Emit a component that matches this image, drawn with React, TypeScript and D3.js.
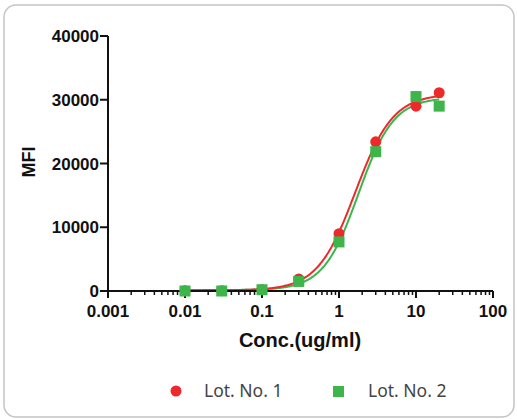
import React from "react";
import * as d3 from "d3";

const concentrations = [0.01, 0.03, 0.1, 0.3, 1, 3, 10, 20];
const lot1Values = [50, 50, 200, 1900, 9000, 23400, 29000, 31100];
const lot2Values = [0, 0, 200, 1500, 7700, 21850, 30500, 29000];
const xTicks = [0.001, 0.01, 0.1, 1, 10, 100];
const xTickLabels = ["0.001", "0.01", "0.1", "1", "10", "100"];
const yTicks = [0, 10000, 20000, 30000, 40000];
const seriesNames = ["Lot. No. 1", "Lot. No. 2"];
const seriesColors = ["#ec2a2c", "#3db54b"];

const W = 517;
const H = 419;
const m = { left: 108, right: 493, top: 36, bottom: 291 };

function fit4PL(xs: number[], ys: number[]) {
  const f = (p: number[], x: number) =>
    p[0] + (p[1] - p[0]) / (1 + Math.pow(10, (p[2] - Math.log10(x)) * p[3]));
  const cost = (p: number[]) =>
    xs.reduce((s, x, i) => s + (f(p, x) - ys[i]) ** 2, 0);
  const n = 4;
  const start = [0, d3.max(ys) as number, 0.3, 1.5];
  const steps = [500, 2000, 0.3, 0.5];
  let simplex = [start.slice()];
  for (let i = 0; i < n; i++) {
    const v = start.slice();
    v[i] += steps[i];
    simplex.push(v);
  }
  let vals = simplex.map(cost);
  for (let it = 0; it < 4000; it++) {
    const idx = d3.range(n + 1).sort((a, b) => vals[a] - vals[b]);
    simplex = idx.map((i) => simplex[i]);
    vals = idx.map((i) => vals[i]);
    const c = d3.range(n).map((j) => d3.mean(simplex.slice(0, n), (v) => v[j]) as number);
    const worst = simplex[n];
    const xr = c.map((cj, j) => cj + (cj - worst[j]));
    const fr = cost(xr);
    if (fr < vals[0]) {
      const xe = c.map((cj, j) => cj + 2 * (cj - worst[j]));
      const fe = cost(xe);
      if (fe < fr) { simplex[n] = xe; vals[n] = fe; } else { simplex[n] = xr; vals[n] = fr; }
    } else if (fr < vals[n - 1]) {
      simplex[n] = xr; vals[n] = fr;
    } else {
      const xc = c.map((cj, j) => cj + 0.5 * (worst[j] - cj));
      const fc = cost(xc);
      if (fc < vals[n]) { simplex[n] = xc; vals[n] = fc; }
      else {
        for (let i = 1; i <= n; i++) {
          simplex[i] = simplex[i].map((v, j) => simplex[0][j] + 0.5 * (v - simplex[0][j]));
          vals[i] = cost(simplex[i]);
        }
      }
    }
  }
  const best = simplex[0];
  return (x: number) => f(best, x);
}

export default function App() {
  const x = d3.scaleLog().domain([0.001, 100]).range([m.left, m.right]);
  const y = d3.scaleLinear().domain([0, 40000]).range([m.bottom, m.top]);
  const minorTicks: number[] = [];
  for (let d = 0; d < 5; d++) {
    for (let k = 2; k <= 9; k++) minorTicks.push(k * Math.pow(10, d - 3));
  }
  const allSeries = [lot1Values, lot2Values];
  const curveXs = d3.range(0, 301).map((i) => Math.pow(10, Math.log10(0.01) + (i / 300) * (Math.log10(20) - Math.log10(0.01))));
  const line = d3.line<[number, number]>().x((d) => x(d[0])).y((d) => y(d[1]));
  const fits = allSeries.map((vals) => fit4PL(concentrations, vals));
  const tickFont = "'Liberation Sans', Arial, sans-serif";

  return (
    <svg width={W} height={H} style={{ position: "absolute", left: 0, top: 0 }}>
      <rect x={4} y={5} width={510} height={412} rx={12} fill="#fff" stroke="#c4c4c4" strokeWidth={1.5} />
      {/* fitted curves: green first then red on top */}
      {[1, 0].map((si) => (
        <path key={"c" + si} d={line(curveXs.map((cx) => [cx, fits[si](cx)]) as any) || ""} fill="none" stroke={seriesColors[si]} strokeWidth={2} />
      ))}
      {/* axes */}
      <g stroke="#111" strokeWidth={2} fill="none">
        <line x1={m.left} x2={m.left} y1={m.top} y2={m.bottom} />
        <line x1={m.left} x2={m.right} y1={m.bottom} y2={m.bottom} />
        {yTicks.map((t) => (
          <line key={"yt" + t} x1={m.left - 8} x2={m.left} y1={y(t)} y2={y(t)} />
        ))}
        {xTicks.map((t) => (
          <line key={"xt" + t} x1={x(t)} x2={x(t)} y1={m.bottom} y2={m.bottom + 7} />
        ))}
        {minorTicks.map((t) => (
          <line key={"mt" + t} x1={x(t)} x2={x(t)} y1={m.bottom} y2={m.bottom + 4} strokeWidth={1.5} />
        ))}
      </g>
      <g fontFamily={tickFont} fontWeight="bold" fontSize={17} fill="#111">
        {yTicks.map((t) => (
          <text key={"yl" + t} x={m.left - 9} y={y(t)} dy="0.36em" textAnchor="end">{t}</text>
        ))}
        {xTicks.map((t, i) => (
          <text key={"xl" + t} x={x(t)} y={m.bottom + 26} textAnchor="middle">{xTickLabels[i]}</text>
        ))}
        <text x={300} y={347} textAnchor="middle" fontSize={20}>Conc.(ug/ml)</text>
        <text transform="translate(35,162) rotate(-90)" textAnchor="middle" fontSize={18}>MFI</text>
      </g>
      {/* markers */}
      {concentrations.map((c, i) => (
        <circle key={"p1" + i} cx={x(c)} cy={y(lot1Values[i])} r={5.5} fill={seriesColors[0]} />
      ))}
      {concentrations.map((c, i) => (
        <rect key={"p2" + i} x={x(c) - 5.5} y={y(lot2Values[i]) - 5.5} width={11} height={11} fill={seriesColors[1]} />
      ))}
      {/* legend */}
      <g fontFamily="'Noto Sans', sans-serif" fontSize={17.5} fill="#444">
        <circle cx={176} cy={391} r={5.5} fill={seriesColors[0]} />
        <text x={204} y={397}>{seriesNames[0]}</text>
        <rect x={333} y={386} width={11} height={11} fill={seriesColors[1]} />
        <text x={368} y={397}>{seriesNames[1]}</text>
      </g>
    </svg>
  );
}
